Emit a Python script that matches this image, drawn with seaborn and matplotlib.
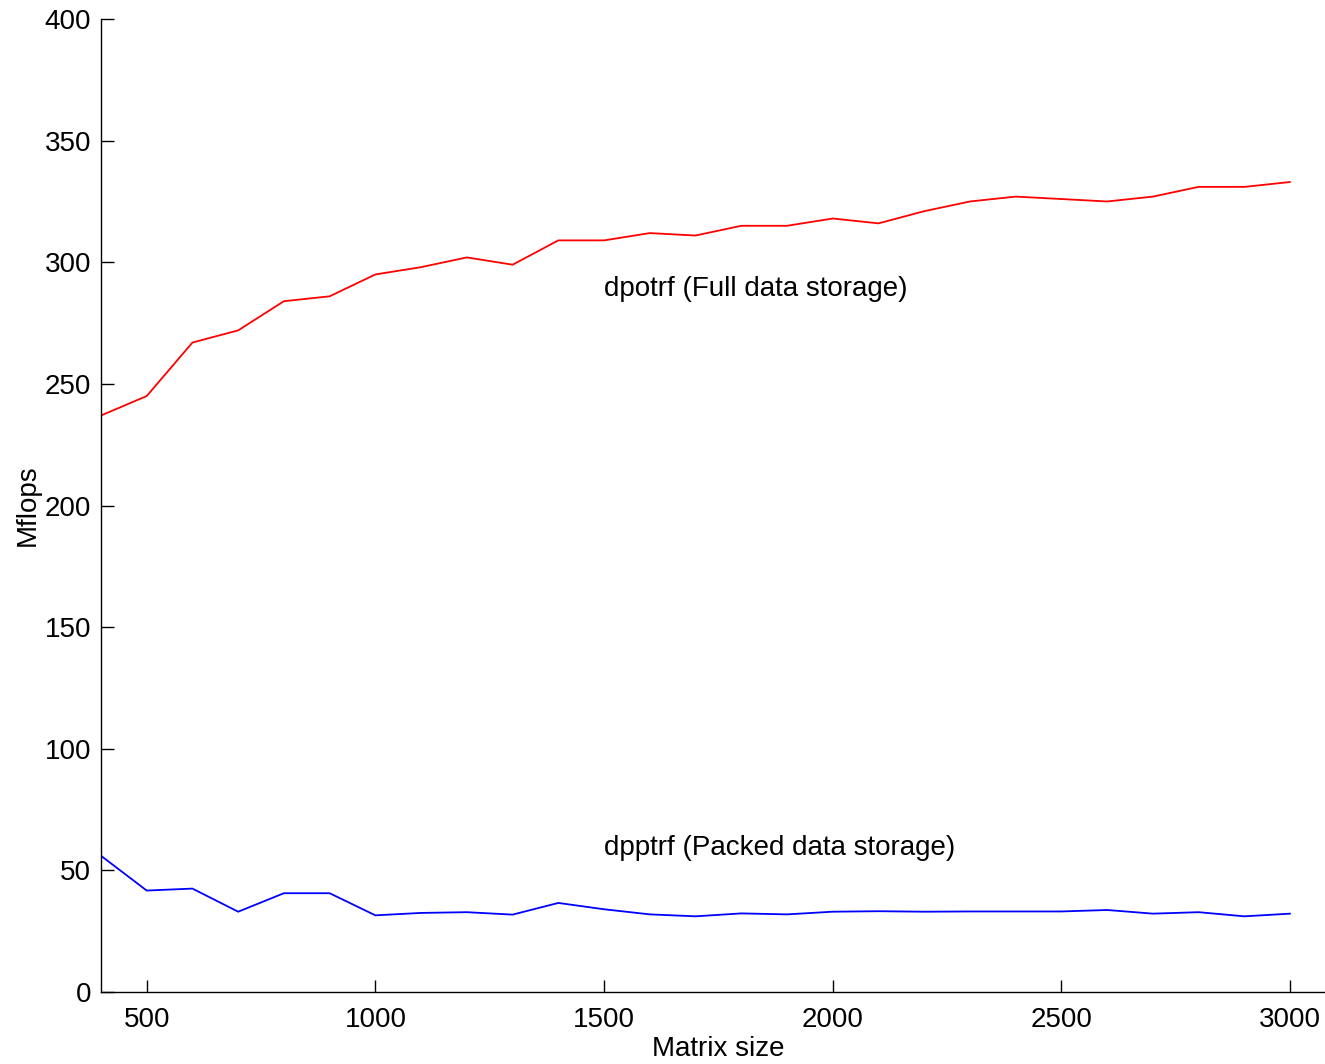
import numpy as np
import pandas as pd
import matplotlib
matplotlib.use("Agg")
import matplotlib.pyplot as plt
import seaborn as sns

# ── data ──────────────────────────────────────────────────────────
matrix_size = list(range(400, 3001, 100))
full_mflops = [237, 245, 267, 272, 284, 286, 295, 298, 302, 299,
               309, 309, 312, 311, 315, 315, 318, 316, 321, 325,
               327, 326, 325, 327, 331, 331, 333]
packed_mflops = [56, 41.7, 42.5, 33, 40.6, 40.6, 31.5, 32.5, 32.8, 31.8,
                 36.6, 34, 31.9, 31.1, 32.3, 31.9, 33.0, 33.2, 33.0, 33.1,
                 33.1, 33.1, 33.7, 32.2, 32.8, 31.1, 32.2]
labels = ["dpotrf (Full data storage)", "dpptrf (Packed data storage)"]
label_pos = [(1500, 289), (1500, 59)]

df = pd.DataFrame({
    "Matrix size": matrix_size * 2,
    "Mflops": full_mflops + packed_mflops,
    "routine": [labels[0]] * len(matrix_size) + [labels[1]] * len(matrix_size),
})

sns.set_theme(style="ticks")
plt.rcParams["font.family"] = ["Liberation Sans", "DejaVu Sans"]
FS = 20

fig = plt.figure(figsize=(13.25, 10.64), dpi=100)
# axes runs a little past the right edge of the figure, as in the original
ax = fig.add_axes([0.0762, 0.0677, 0.9313, 0.9144])

sns.lineplot(data=df, x="Matrix size", y="Mflops", hue="routine",
             palette=["#ff0000", "#0000ff"], linewidth=1.3, legend=False, ax=ax)

for txt, (x, y) in zip(labels, label_pos):
    ax.text(x, y, txt, fontsize=FS, ha="left", va="center", color="black")

ax.set_xlim(400, 3098)
ax.set_ylim(0, 400)
ax.set_xticks(range(500, 3001, 500))
ax.set_yticks(range(0, 401, 50))
ax.tick_params(direction="in", length=9, width=1, labelsize=FS, color="black",
               labelcolor="black")
ax.tick_params(axis="x", pad=11)
ax.tick_params(axis="y", pad=7)
ax.set_xlabel("Matrix size", fontsize=FS, labelpad=2, color="black")
ax.set_ylabel("Mflops", fontsize=FS, labelpad=3, color="black")
for side in ["top", "right"]:
    ax.spines[side].set_visible(False)
for side in ["left", "bottom"]:
    ax.spines[side].set_color("black")
    ax.spines[side].set_linewidth(1)

fig.savefig("out.png", dpi=100, facecolor="white")
